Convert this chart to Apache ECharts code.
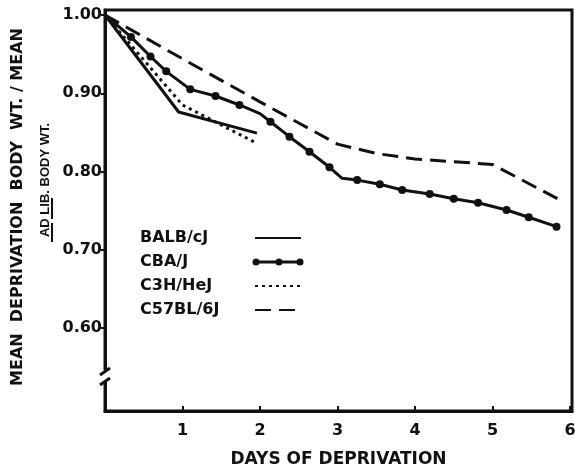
<!DOCTYPE html>
<html>
<head>
<meta charset="utf-8">
<script src="https://cdn.jsdelivr.net/npm/echarts@6/dist/echarts.min.js"></script>
<style>
  html, body { margin: 0; padding: 0; background: #fff; }
  #main { width: 575px; height: 470px; }
</style>
</head>
<body>
<div id="main"></div>
<script>
// values (days, fraction of ad lib body weight)
var balbX = [0, 0.95, 1.96];
var balbY = [1.00, 0.876, 0.849];

var c3hX = [0, 1.0, 1.96];
var c3hY = [1.00, 0.885, 0.836];

// CBA/J: dotted points plus two corners where the line bends (no dot)
var cbaX = [0, 0.335, 0.587, 0.79, 1.10, 1.426, 1.735, 2.0, 2.135, 2.38, 2.639, 2.897, 3.06, 3.254, 3.546, 3.835, 4.19, 4.5, 4.814, 5.181, 5.468, 5.826];
var cbaY = [1.00, 0.972, 0.947, 0.928, 0.905, 0.8965, 0.885, 0.874, 0.8636, 0.8445, 0.8253, 0.8054, 0.7913, 0.789, 0.7836, 0.7764, 0.7712, 0.7652, 0.7601, 0.7508, 0.7415, 0.7295];
var cbaDot = [0, 1, 1, 1, 1, 1, 1, 0, 1, 1, 1, 1, 0, 1, 1, 1, 1, 1, 1, 1, 1, 1];

var c57X = [0, 1, 2, 3, 3.5, 4, 5, 5.92];
var c57Y = [1.00, 0.944, 0.889, 0.835, 0.823, 0.816, 0.809, 0.761];

var xTicks = [1, 2, 3, 4, 5, 6];
var yTicks = [0.6, 0.7, 0.8, 0.9, 1.0];

var strains = ['BALB/cJ', 'CBA/J', 'C3H/HeJ', 'C57BL/6J'];

function pairs(xs, ys) {
    return xs.map(function (x, i) { return [x, ys[i]]; });
}

var cbaData = cbaX.map(function (x, i) {
    var item = { value: [x, cbaY[i]] };
    if (!cbaDot[i]) item.symbol = 'none';
    return item;
});

var font = 'DejaVu Sans';
var ink = '#111';
var noDot = { opacity: 0 };

var myChart = echarts.init(document.getElementById('main'));

myChart.setOption({
    animation: false,
    backgroundColor: '#fff',
    grid: {
        left: 105, right: 3, top: 10, bottom: 59,
        outerBoundsMode: 'none',
        show: true, borderColor: ink, borderWidth: 3
    },
    legend: {
        orient: 'vertical',
        left: 140, top: 230,
        padding: 0,
        align: 'right',
        itemWidth: 46, itemHeight: 8, itemGap: 8,
        formatter: '{n|{name}}',
        textStyle: {
            color: ink,
            rich: { n: { width: 110, align: 'left', fontFamily: font, fontWeight: 'bold', fontSize: 16, lineHeight: 16, color: ink } }
        },
        data: [
            { name: 'BALB/cJ', itemStyle: noDot },
            { name: 'CBA/J', itemStyle: noDot },
            { name: 'C3H/HeJ', itemStyle: noDot },
            { name: 'C57BL/6J', itemStyle: noDot }
        ]
    },
    xAxis: {
        type: 'value',
        min: 0, max: 6.026,
        name: 'DAYS OF DEPRIVATION',
        nameLocation: 'middle',
        nameGap: 40,
        nameTextStyle: { fontFamily: font, fontWeight: 'bold', fontSize: 17, color: ink },
        axisLine: { lineStyle: { color: ink, width: 3 } },
        axisTick: { inside: true, length: 5, lineStyle: { color: ink, width: 2 }, customValues: xTicks },
        axisLabel: {
            customValues: xTicks, margin: 12,
            fontFamily: font, fontWeight: 'bold', fontSize: 16, color: ink
        },
        splitLine: { show: false }
    },
    yAxis: {
        type: 'value',
        min: 0.4939, max: 1.0064,
        axisLine: { lineStyle: { color: ink, width: 3 } },
        axisTick: { length: 4, lineStyle: { color: ink, width: 2 }, customValues: yTicks },
        axisLabel: {
            customValues: yTicks, margin: 3,
            formatter: function (v) { return v.toFixed(2); },
            fontFamily: font, fontWeight: 'bold', fontSize: 16, color: ink
        },
        splitLine: { show: false }
    },
    graphic: [
        {
            type: 'text', x: 18, y: 207, rotation: Math.PI / 2,
            style: {
                text: 'MEAN  DEPRIVATION  BODY  WT. / MEAN',
                font: 'bold 16px "DejaVu Sans"', fill: ink,
                align: 'center', verticalAlign: 'middle'
            }
        },
        {
            type: 'group', x: 45, y: 180, rotation: Math.PI / 2,
            children: [
                {
                    type: 'text', x: 0, y: 0,
                    style: {
                        text: 'AD LIB. BODY WT.',
                        font: 'bold 13px "Liberation Sans"', fill: ink,
                        align: 'center', verticalAlign: 'middle'
                    }
                },
                { type: 'rect', shape: { x: -62, y: 6, width: 19, height: 2 }, style: { fill: ink } },
                { type: 'rect', shape: { x: -39, y: 6, width: 21, height: 2 }, style: { fill: ink } }
            ]
        },
        // CBA/J legend sample: a line with three dots
        {
            type: 'group', x: 255, y: 262, z: 100,
            children: [
                { type: 'rect', shape: { x: 0, y: -1.5, width: 46, height: 3 }, style: { fill: ink } },
                { type: 'circle', shape: { cx: 1, cy: 0, r: 3.5 }, style: { fill: ink } },
                { type: 'circle', shape: { cx: 24, cy: 0, r: 3.5 }, style: { fill: ink } },
                { type: 'circle', shape: { cx: 45, cy: 0, r: 3.5 }, style: { fill: ink } }
            ]
        },
        // axis break on the y axis
        { type: 'rect', z: 100, shape: { x: 101, y: 370, width: 9, height: 11 }, style: { fill: '#fff' } },
        { type: 'line', z: 101, shape: { x1: 100, y1: 375, x2: 110, y2: 368 }, style: { stroke: ink, lineWidth: 3 } },
        { type: 'line', z: 101, shape: { x1: 100, y1: 385, x2: 110, y2: 378 }, style: { stroke: ink, lineWidth: 3 } }
    ],
    series: [
        {
            name: strains[0], type: 'line', symbol: 'none',
            lineStyle: { color: ink, width: 3 }, itemStyle: { color: ink },
            data: pairs(balbX, balbY)
        },
        {
            name: strains[1], type: 'line', symbol: 'circle', symbolSize: 8,
            lineStyle: { color: ink, width: 3 }, itemStyle: { color: ink },
            data: cbaData
        },
        {
            name: strains[2], type: 'line', symbol: 'none',
            lineStyle: { color: ink, width: 3, type: [3, 4] }, itemStyle: { color: ink },
            data: pairs(c3hX, c3hY)
        },
        {
            name: strains[3], type: 'line', symbol: 'none',
            lineStyle: { color: ink, width: 3, type: [16, 8] }, itemStyle: { color: ink },
            data: pairs(c57X, c57Y)
        }
    ]
});
</script>
</body>
</html>
